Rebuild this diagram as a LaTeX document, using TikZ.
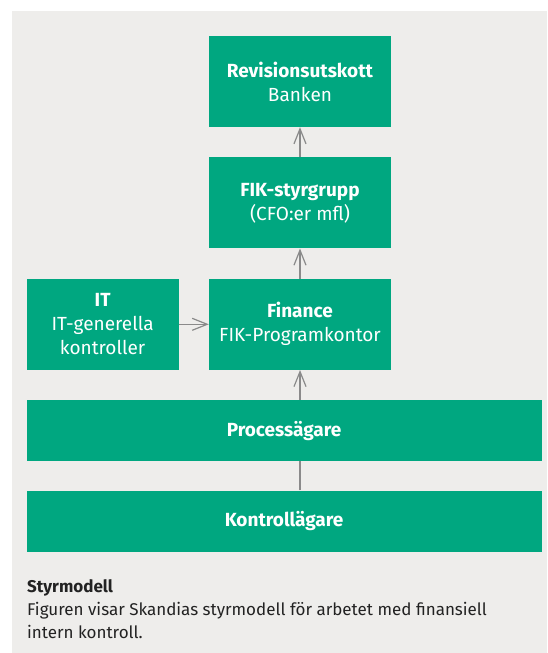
\documentclass[tikz,border=0pt]{standalone}
\usepackage{fontspec}
\setmainfont{Fira Sans}
\usepackage{tikz}
\usetikzlibrary{positioning,arrows.meta}

\definecolor{boxgreen}{RGB}{0,167,128}
\definecolor{panelgray}{RGB}{238,237,235}
\definecolor{arrowgray}{RGB}{138,138,138}
\definecolor{captiontext}{RGB}{34,34,34}

\begin{document}
\begin{tikzpicture}[
    x=1pt, y=-1pt,
    node distance=30pt and 30pt,
    box/.style={rectangle, fill=boxgreen, text=white, align=center, inner sep=0pt, minimum width=182pt, minimum height=91pt, font=\fontsize{19}{24}\selectfont},
    widebox/.style={box, minimum width=515pt, minimum height=61pt, font=\fontsize{19}{24}\selectfont\bfseries},
    arrow/.style={-{Straight Barb[length=15pt,width=12pt]}, color=arrowgray, line width=1.2pt},
    plainline/.style={color=arrowgray, line width=1.2pt},
    caption/.style={anchor=north west, align=left, inner sep=0pt, text=captiontext, font=\fontsize{17}{23}\selectfont}
  ]
  % Panel
  \useasboundingbox (0,0) rectangle (547,653);
  \fill[panelgray] (12,11) rectangle (547,653);

  % Upper chain
  \node[box] (rev) at (300,81.5) {\textbf{Revisionsutskott}\\Banken};
  \node[box, below=of rev] (fik) {\textbf{FIK-styrgrupp}\\(CFO:er mfl)};
  \node[box, below=of fik] (fin) {\textbf{Finance}\\FIK-Programkontor};
  \node[box, left=of fin, minimum width=152pt] (it) {\textbf{IT}\\IT-generella\\kontroller};

  % Wide bars
  \node[widebox, anchor=north west] (proc) at ([yshift=-30pt]it.south west) {Processägare};
  \node[widebox, below=29pt of proc] (kontr) {Kontrollägare};

  % Arrows
  \draw[plainline] (kontr.north -| fin) -- (proc.south -| fin);
  \draw[arrow] (proc.north -| fin) -- (fin);
  \draw[arrow] (fin) -- (fik);
  \draw[arrow] (fik) -- (rev);
  \draw[arrow] (it) -- (fin);

  % Caption
  \node[caption] (cap) at (27,579) {\textbf{Styrmodell}\\Figuren visar Skandias styrmodell för arbetet med finansiell\\intern kontroll.};
\end{tikzpicture}
\end{document}
